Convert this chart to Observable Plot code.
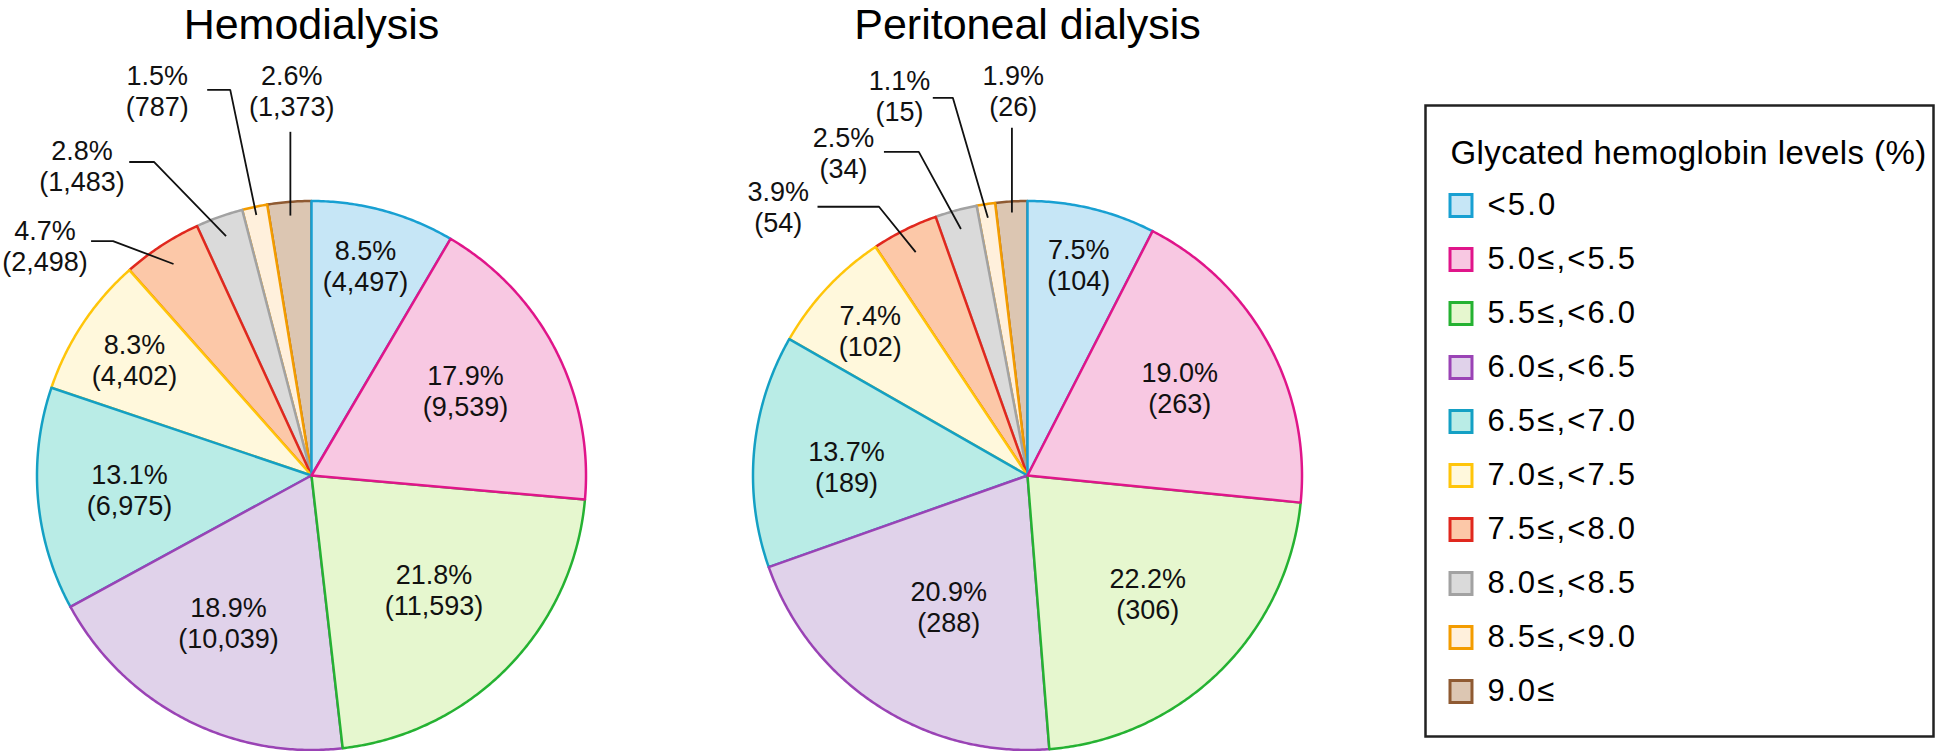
<!DOCTYPE html>
<html><head><meta charset="utf-8">
<script src="https://cdn.jsdelivr.net/npm/d3@7"></script>
<script src="https://cdn.jsdelivr.net/npm/@observablehq/plot@0.6"></script>
<style>
html,body{margin:0;padding:0;background:#fff;}
#root{position:relative;width:1946px;height:751px;overflow:hidden;}
#root > div{position:absolute;}
</style></head><body><div id="root"></div>
<script>
// ---- data ----
const categories = ["<5.0","5.0≤,<5.5","5.5≤,<6.0","6.0≤,<6.5","6.5≤,<7.0","7.0≤,<7.5","7.5≤,<8.0","8.0≤,<8.5","8.5≤,<9.0","9.0≤"];
const hdCounts   = [4497, 9539, 11593, 10039, 6975, 4402, 2498, 1483, 787, 1373];
const hdPercents = [8.5, 17.9, 21.8, 18.9, 13.1, 8.3, 4.7, 2.8, 1.5, 2.6];
const pdCounts   = [104, 263, 306, 288, 189, 102, 54, 34, 15, 26];
const pdPercents = [7.5, 19.0, 22.2, 20.9, 13.7, 7.4, 3.9, 2.5, 1.1, 1.9];
const pieTitles = ["Hemodialysis", "Peritoneal dialysis"];
const legendTitle = "Glycated hemoglobin levels (%)";

// ---- styles ----
const fillColors   = ["#c6e6f6","#f8c8e2","#e6f7cf","#e0d2ea","#b9ece6","#fff8dc","#fcc8a8","#dadada","#fff0dc","#dcc6b2"];
const strokeColors = ["#18a0d2","#e0158a","#25b232","#9a43b5","#14a0c4","#ffc50a","#e0281e","#a2a2a2","#f39c00","#8f5a32"];
const drawOrder = [9,8,7,6,5,4,3,2,0,1];
const FONT = "'Liberation Sans', Arial, Helvetica, sans-serif";

// ---- layout (in pie-radius units, y up) ----
const R_PX = 274.5, PIE_W = 622, PIE_H = 751, CX = 311, CY = 475;
const hdInner = {r: [0.79, 0.64, 0.61, 0.615, 0.665, 0.77], da: [-0.8, -1.5, -1.3, 2, 0.7, -0.4]};
const pdInner = {r: [0.79, 0.64, 0.615, 0.556, 0.66, 0.78], da: [0.1, -1.3, -1, -1.9, -2.4, -0.3]};
const hdOuter = [
  {i: 6, tx: -0.971, ty: 0.838, sx: -0.803, sy: 0.854, ex: -0.723, endR: 0.92},
  {i: 7, tx: -0.836, ty: 1.130, sx: -0.664, sy: 1.142, ex: -0.573, endR: 0.926},
  {i: 8, tx: -0.562, ty: 1.401, sx: -0.380, sy: 1.405, ex: -0.296, endR: 0.97},
  {i: 9, tx: -0.072, ty: 1.401, sx: null,   sy: 1.252, ex: null,   endR: 0.95}
];
const pdOuter = [
  {i: 6, tx: -0.908, ty: 0.979, sx: -0.765, sy: 0.979, ex: -0.541, endR: 0.91},
  {i: 7, tx: -0.670, ty: 1.176, sx: -0.523, sy: 1.179, ex: -0.396, endR: 0.93},
  {i: 8, tx: -0.466, ty: 1.385, sx: -0.345, sy: 1.376, ex: -0.272, endR: 0.95},
  {i: 9, tx: -0.052, ty: 1.404, sx: null,   sy: 1.267, ex: null,   endR: 0.96}
];

function slices(counts) {
  const total = d3.sum(counts);
  let cum = 0;
  return counts.map((c, i) => {
    const a0 = cum / total * 2 * Math.PI; cum += c;
    const a1 = cum / total * 2 * Math.PI;
    const n = Math.max(2, Math.ceil((a1 - a0) / (Math.PI / 360)));
    const pts = [{x: 0, y: 0}];
    for (let k = 0; k <= n; k++) {
      const a = a0 + (a1 - a0) * k / n;
      pts.push({x: Math.sin(a), y: Math.cos(a)});
    }
    pts.push({x: 0, y: 0});
    return {i, a0, a1, mid: (a0 + a1) / 2, pts};
  });
}

const fmt = d3.format(",");
function labelText(pcts, counts, i) { return `${pcts[i].toFixed(1)}%\n(${fmt(counts[i])})`; }

function piePlot(title, counts, pcts, inner, outer) {
  const sl = slices(counts);
  const marks = [];
  for (const k of drawOrder) {
    const s = sl[k];
    marks.push(Plot.line(s.pts, {x: "x", y: "y", fill: fillColors[k], stroke: strokeColors[k],
      strokeWidth: 2.5, strokeLinejoin: "round", strokeLinecap: "round"}));
  }
  const innerLabels = inner.r.map((r, i) => {
    const a = sl[i].mid + inner.da[i] * Math.PI / 180;
    return {x: r * Math.sin(a), y: r * Math.cos(a), text: labelText(pcts, counts, i)};
  });
  const leaders = [], outerLabels = [];
  for (const o of outer) {
    const a = sl[o.i].mid;
    const end = {x: o.endR * Math.sin(a), y: o.endR * Math.cos(a), k: o.i};
    if (o.sx == null) {
      leaders.push({x: end.x, y: o.sy, k: o.i}, end);
    } else {
      leaders.push({x: o.sx, y: o.sy, k: o.i}, {x: o.ex, y: o.sy, k: o.i}, end);
    }
    outerLabels.push({x: o.tx, y: o.ty, text: labelText(pcts, counts, o.i)});
  }
  marks.push(Plot.line(leaders, {x: "x", y: "y", z: "k", stroke: "#111", strokeWidth: 1.8, strokeLinejoin: "miter", strokeLinecap: "butt"}));
  marks.push(Plot.text(innerLabels.concat(outerLabels), {x: "x", y: "y", text: "text", fontSize: 27, lineHeight: 1.15, fill: "#111"}));
  marks.push(Plot.text([title], {frameAnchor: "top", text: d => d, fontSize: 43, dy: 8, fill: "#000"}));
  return Plot.plot({
    width: PIE_W, height: PIE_H, margin: 0,
    x: {domain: [-CX / R_PX, (PIE_W - CX) / R_PX], axis: null},
    y: {domain: [-(PIE_H - CY) / R_PX, CY / R_PX], axis: null},
    style: {fontFamily: FONT, background: "transparent", overflow: "visible"},
    marks
  });
}

function legendPlot() {
  return Plot.plot({
    width: 512, height: 635, margin: 0,
    y: {type: "point", domain: categories, range: [102, 588], padding: 0, axis: null},
    color: {type: "identity"},
    style: {fontFamily: FONT, background: "transparent"},
    marks: [
      Plot.frame({stroke: "#222", strokeWidth: 2.5, inset: 2}),
      Plot.text([legendTitle], {frameAnchor: "top-left", text: d => d, fontSize: 33, dx: 27, dy: 37, fill: "#000", textAnchor: "start"}),
      Plot.dot(categories, {y: d => d, frameAnchor: "left", dx: 37.5, symbol: "square", r: 12.4,
        fill: d => fillColors[categories.indexOf(d)], stroke: d => strokeColors[categories.indexOf(d)], strokeWidth: 3}),
      Plot.text(categories, {y: d => d, text: d => d, frameAnchor: "left", dx: 64, textAnchor: "start", fontSize: 31, fill: "#000"})
    ]
  });
}

const root = document.getElementById("root");
function place(node, left, top, w, h) {
  const div = document.createElement("div");
  div.style.left = left + "px"; div.style.top = top + "px";
  div.style.width = w + "px"; div.style.height = h + "px";
  div.appendChild(node);
  root.appendChild(div);
  return div;
}
place(piePlot(pieTitles[0], hdCounts, hdPercents, hdInner, hdOuter), 0, 0, PIE_W, PIE_H);
place(piePlot(pieTitles[1], pdCounts, pdPercents, pdInner, pdOuter), 716, 0, PIE_W, PIE_H);
const lg = place(legendPlot(), 1423, 103, 512, 635);
lg.querySelectorAll("text").forEach((t, j) => { t.style.letterSpacing = j === 0 ? "0.4px" : "2.2px"; });
</script>
</body></html>
